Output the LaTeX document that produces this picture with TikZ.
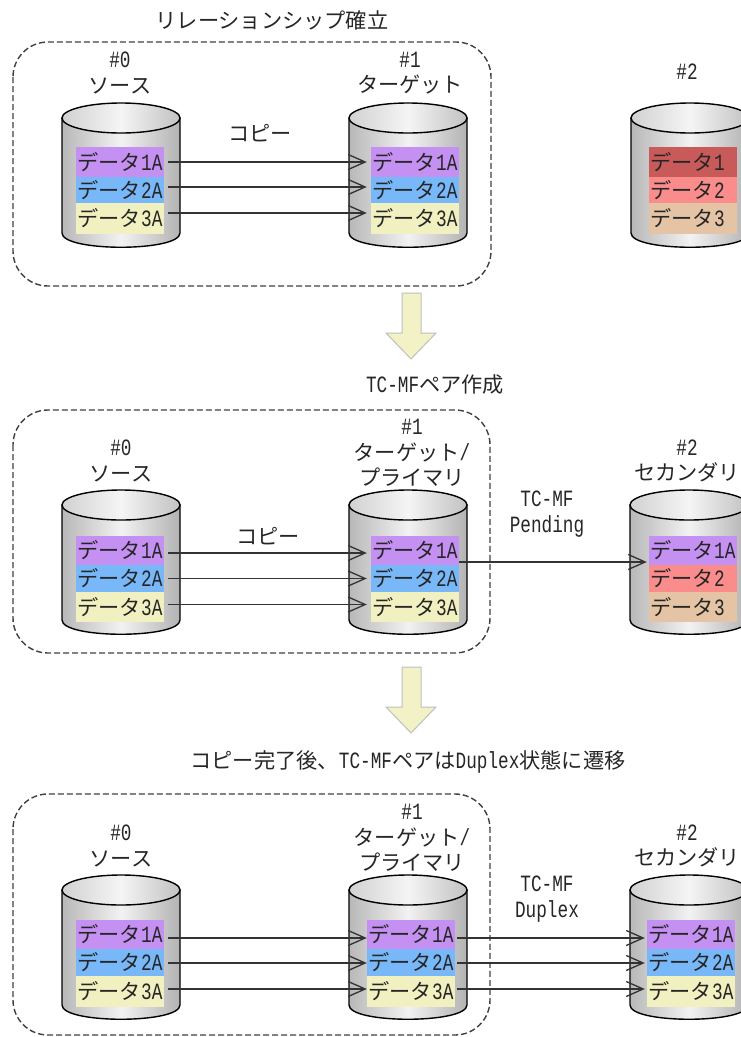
\documentclass[tikz,border=0pt]{standalone}
\usepackage{fontspec}
\setmainfont[FakeStretch=0.76,Scale=1.1]{Liberation Mono}
\newfontfamily\cjk{Noto Sans CJK JP}
\usetikzlibrary{arrows.meta}

\definecolor{datapurple}{HTML}{C490F2}
\definecolor{datablue}{HTML}{78B8F8}
\definecolor{datayellow}{HTML}{F0F0C0}
\definecolor{datared}{HTML}{C85A5A}
\definecolor{datapink}{HTML}{FA8C8C}
\definecolor{datatan}{HTML}{E4C4A4}

\newcommand{\disk}[2]{%
  \begin{scope}[shift={(#1,#2)}]
    \draw[diskbody] (0,15) -- (0,130) .. controls (0,149) and (118,149) .. (118,130) -- (118,15) -- cycle;
    \draw[disktop] (59,15) ellipse [x radius=59,y radius=15];
  \end{scope}}

\begin{document}
\begin{tikzpicture}[x=1pt,y=-1pt,
    diskbody/.style={line width=1.4pt,left color=black!28,right color=black!30,middle color=black!5},
    disktop/.style={line width=1.4pt,left color=black!18,right color=black!24,middle color=black!4},
    groupbox/.style={line width=1.4pt,black!75,dash pattern=on 6pt off 3pt,rounded corners=35pt},
    stagearrow/.style={draw=black!25,fill=datayellow!90!white,line width=1pt},
    copyline/.style={line width=1.3pt,black!80,-{Straight Barb[length=17pt,width=15pt]},shorten <=4pt,shorten >=4pt},
    txt/.style={inner sep=0pt,align=center,text=black!85,font=\fontsize{21.2}{25.5}\selectfont},
    databar/.style={txt,minimum width=88pt},
    one/.style={databar,minimum height=29.5pt,fill=datapurple},
    two/.style={databar,minimum height=26.5pt,fill=datablue},
    three/.style={databar,minimum height=30.5pt,fill=datayellow},
    oldone/.style={databar,minimum height=29.5pt,fill=datared},
    oldtwo/.style={databar,minimum height=26.5pt,fill=datapink},
    oldthree/.style={databar,minimum height=30.5pt,fill=datatan}]
  \path[use as bounding box,clip] (0,0) rectangle (741,1037);

  % relationship
  \node[txt] (title1) at (272,20) {\cjk リレーションシップ確立};
  \draw[groupbox] (13,42) rectangle (491,286);
  \node[txt] (a0label) at (120,73) {\#0\\\cjk ソース};
  \node[txt] (a1label) at (410,73) {\#1\\\cjk ターゲット};
  \node[txt] (a2label) at (687,72) {\#2};
  \node[txt] (acopy) at (260,133) {\cjk コピー};
  \disk{62}{103} \disk{349}{103} \disk{631}{103}
  \node[one] (a01) at (120,162) {{\cjk データ}1A};
  \node[two] (a02) at (120,190) {{\cjk データ}2A};
  \node[three] (a03) at (120,218.5) {{\cjk データ}3A};
  \node[one] (a11) at (415,162) {{\cjk データ}1A};
  \node[two] (a12) at (415,190) {{\cjk データ}2A};
  \node[three] (a13) at (415,218.5) {{\cjk データ}3A};
  \node[oldone] (a21) at (693,162) {{\cjk データ}1\phantom{A}};
  \node[oldtwo] (a22) at (693,190) {{\cjk データ}2\phantom{A}};
  \node[oldthree] (a23) at (693,218.5) {{\cjk データ}3\phantom{A}};
  \draw[copyline] (a01.east) -- (a11.west);
  \draw[copyline] ([yshift=3pt]a02.east) -- ([yshift=3pt]a12.west);
  \draw[copyline] ([yshift=5.5pt]a03.east) -- ([yshift=5.5pt]a13.west);
  \draw[stagearrow] (402,293) -- (421,293) -- (421,333) -- (436,333) -- (411,359) -- (386,333) -- (402,333) -- cycle;

  % pair created
  \node[txt] (title2) at (435,385) {TC-MF{\cjk ペア作成}};
  \draw[groupbox] (13,410) rectangle (490,653);
  \node[txt] (b0label) at (121,461) {\#0\\\cjk ソース};
  \node[txt] (b1label) at (412,453) {\#1\\{\cjk ターゲット}/\\\cjk プライマリ};
  \node[txt] (b2label) at (687,461) {\#2\\\cjk セカンダリ};
  \node[txt] (bcopy) at (268,536) {\cjk コピー};
  \node[txt] (bstate) at (547,514) {TC-MF\\Pending};
  \disk{62}{490} \disk{349}{490} \disk{630}{490}
  \node[one] (b01) at (120,550.5) {{\cjk データ}1A};
  \node[two] (b02) at (120,578.5) {{\cjk データ}2A};
  \node[three] (b03) at (120,607) {{\cjk データ}3A};
  \node[one] (b11) at (415,550.5) {{\cjk データ}1A};
  \node[two] (b12) at (415,578.5) {{\cjk データ}2A};
  \node[three] (b13) at (415,607) {{\cjk データ}3A};
  \node[one] (b21) at (693,550.5) {{\cjk データ}1A};
  \node[oldtwo] (b22) at (693,578.5) {{\cjk データ}2\phantom{A}};
  \node[oldthree] (b23) at (693,607) {{\cjk データ}3\phantom{A}};
  \draw[copyline] ([yshift=-2.5pt]b01.east) -- ([yshift=-2.5pt]b11.west);
  \draw[copyline] (b02.east) -- (b12.west);
  \draw[copyline] ([yshift=2.5pt]b03.east) -- ([yshift=2.5pt]b13.west);
  \draw[copyline,shorten <=0pt,shorten >=2pt] ([yshift=-11.5pt]b11.east) -- ([yshift=-11.5pt]b21.west);
  \draw[stagearrow,shift={(0,374)}] (402,293) -- (421,293) -- (421,333) -- (436,333) -- (411,359) -- (386,333) -- (402,333) -- cycle;

  % duplex
  \node[txt] (title3) at (408,762) {{\cjk コピー完了後、}TC-MF{\cjk ペアは}Duplex{\cjk 状態に遷移}};
  \draw[groupbox] (13,794) rectangle (490,1035);
  \node[txt] (c0label) at (121,846) {\#0\\\cjk ソース};
  \node[txt] (c1label) at (412,838) {\#1\\{\cjk ターゲット}/\\\cjk プライマリ};
  \node[txt] (c2label) at (687,846) {\#2\\\cjk セカンダリ};
  \node[txt] (cstate) at (547,899) {TC-MF\\Duplex};
  \disk{62}{875} \disk{349}{875} \disk{630}{875}
  \node[one] (c01) at (120,934.5) {{\cjk データ}1A};
  \node[two] (c02) at (120,962.5) {{\cjk データ}2A};
  \node[three] (c03) at (120,991.5) {{\cjk データ}3A};
  \node[one] (c11) at (411,934.5) {{\cjk データ}1A};
  \node[two] (c12) at (411,962.5) {{\cjk データ}2A};
  \node[three] (c13) at (411,991.5) {{\cjk データ}3A};
  \node[one] (c21) at (691,934.5) {{\cjk データ}1A};
  \node[two] (c22) at (691,962.5) {{\cjk データ}2A};
  \node[three] (c23) at (691,991.5) {{\cjk データ}3A};
  \draw[copyline,shorten >=0pt] ([yshift=-3.5pt]c01.east) -- ([yshift=-3.5pt]c11.west);
  \draw[copyline,shorten >=0pt] ([yshift=-0.5pt]c02.east) -- ([yshift=-0.5pt]c12.west);
  \draw[copyline,shorten >=0pt] ([yshift=2.5pt]c03.east) -- ([yshift=2.5pt]c13.west);
  \draw[copyline,shorten <=2pt,shorten >=2pt] ([yshift=-3.5pt]c11.east) -- ([yshift=-3.5pt]c21.west);
  \draw[copyline,shorten <=2pt,shorten >=2pt] ([yshift=-0.5pt]c12.east) -- ([yshift=-0.5pt]c22.west);
  \draw[copyline,shorten <=2pt,shorten >=2pt] ([yshift=2.5pt]c13.east) -- ([yshift=2.5pt]c23.west);
\end{tikzpicture}
\end{document}
